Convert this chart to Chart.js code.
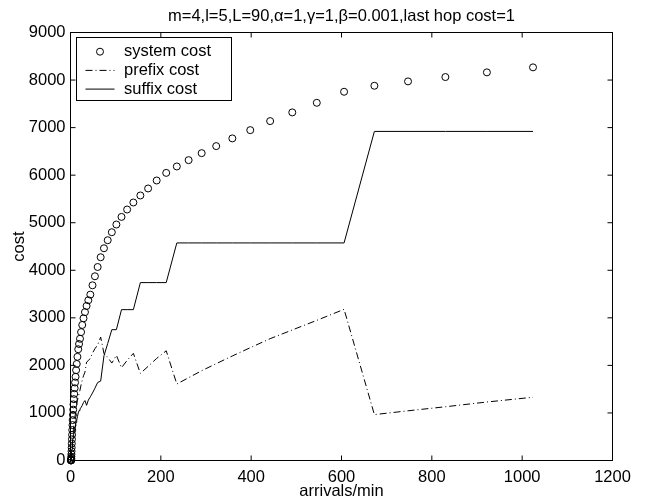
<!DOCTYPE html>
<html><head><meta charset="utf-8">
<script src="https://cdn.jsdelivr.net/npm/chart.js@4.4.1/dist/chart.umd.min.js"></script>
<style>html,body{margin:0;padding:0;background:#fff}#wrap{width:647px;height:503px;position:relative}</style>
</head><body><div id="wrap"><canvas id="c" width="647" height="503"></canvas></div>
<script>
const titleText = "m=4,l=5,L=90,\u03b1=1,\u03b3=1,\u03b2=0.001,last hop cost=1";
const xLabel = "arrivals/min";
const yLabel = "cost";
const seriesLabels = ["system cost", "prefix cost", "suffix cost"];
const xTicks = [0, 200, 400, 600, 800, 1000, 1200];
const yTicks = [0, 1000, 2000, 3000, 4000, 5000, 6000, 7000, 8000, 9000];

const arrivals = [1.0, 1.1, 1.2, 1.4, 1.5, 1.7, 1.9, 2.1, 2.3, 2.6, 2.9, 3.2, 3.5, 3.9, 4.4, 4.8, 5.4, 6.0, 6.6, 7.4,
  8.2, 9.1, 10.1, 11.2, 12.4, 13.8, 15.3, 17.1, 18.9, 21.0, 23.4, 26.0, 28.8, 32.0, 35.6, 39.5, 43.9, 48.7, 54.1, 60.1,
  66.8, 74.1, 82.4, 91.5, 101.6, 112.9, 125.4, 139.2, 154.7, 171.8, 190.8, 211.9, 235.4, 261.5, 290.4, 322.6, 358.3, 398.0, 442.0, 491.0,
  545.3, 605.7, 672.8, 747.3, 830.0, 921.9, 1024];

const systemCost = [0, 2, 5, 10, 20, 45, 80, 130, 195, 270, 355, 445, 540, 640, 745, 850, 960, 1070, 1180, 1290,
  1400, 1520, 1640, 1760, 1900, 2030, 2180, 2340, 2450, 2560, 2700, 2850, 2990, 3120, 3250, 3370, 3488, 3684, 3874, 4069,
  4274, 4463, 4632, 4800, 4962, 5122, 5278, 5425, 5573, 5720, 5888, 6048, 6183, 6316, 6463, 6611, 6773, 6947, 7137, 7320,
  7522, 7754, 7880, 7972, 8063, 8162, 8267];

const prefixCost = [0, 1, 3, 6, 12, 25, 45, 75, 110, 150, 200, 250, 300, 360, 420, 480, 540, 600, 660, 720,
  790, 860, 930, 1000, 1100, 1180, 1260, 1340, 1400, 1480, 1590, 1690, 1780, 1860, 2070, 2100, 2150, 2260, 2350, 2430,
  2596, 2250, 2170, 2049, 2211, 1950, 2106, 2253, 1832, 1979, 2147, 2307, 1608, 1741, 1888, 2036, 2198, 2372, 2562, 2745,
  2947, 3179, 965, 1045, 1130, 1230, 1330];

const suffixCost = [0, 1, 2, 4, 8, 20, 35, 55, 85, 120, 155, 195, 240, 280, 325, 370, 420, 470, 520, 570,
  610, 660, 710, 760, 800, 850, 920, 1000, 1050, 1090, 1110, 1160, 1220, 1260, 1160, 1270, 1340, 1420, 1520, 1640,
  1670, 2200, 2460, 2751, 2751, 3172, 3172, 3172, 3741, 3741, 3741, 3741, 4575, 4575, 4575, 4575, 4575, 4575, 4575, 4575,
  4575, 4575, 6920, 6920, 6920, 6920, 6920];

const FONT = "'Liberation Sans', Arial, Helvetica, sans-serif";
const FS = 16.5;

const toXY = (ys) => arrivals.map((x, i) => ({x: x, y: ys[i]}));

const framePlugin = {
  id: 'frame',
  beforeDatasetsDraw(chart) {
    const {ctx, chartArea: a, scales: {x, y}} = chart;
    ctx.save();
    ctx.strokeStyle = '#000';
    ctx.lineWidth = 1;
    ctx.strokeRect(a.left, a.top, a.right - a.left, a.bottom - a.top);
    ctx.beginPath();
    const t = 5;
    xTicks.forEach(v => {
      const px = x.getPixelForValue(v);
      ctx.moveTo(px, a.bottom); ctx.lineTo(px, a.bottom - t);
      ctx.moveTo(px, a.top); ctx.lineTo(px, a.top + t);
    });
    yTicks.forEach(v => {
      const py = y.getPixelForValue(v);
      ctx.moveTo(a.left, py); ctx.lineTo(a.left + t, py);
      ctx.moveTo(a.right, py); ctx.lineTo(a.right - t, py);
    });
    ctx.stroke();
    ctx.restore();
  }
};

const legendPlugin = {
  id: 'boxLegend',
  afterDraw(chart) {
    const {ctx, chartArea: a} = chart;
    const bx = a.left + 6, by = a.top + 5, bw = 155, bh = 63;
    ctx.save();
    ctx.fillStyle = '#fff';
    ctx.fillRect(bx, by, bw, bh);
    ctx.strokeStyle = '#000';
    ctx.lineWidth = 1;
    ctx.strokeRect(bx, by, bw, bh);
    ctx.font = FS + 'px ' + FONT;
    ctx.textBaseline = 'middle';
    ctx.textAlign = 'left';
    chart.data.datasets.forEach((ds, i) => {
      const ry = by + 14.2 + i * 18.7;
      const x0 = bx + 9, x1 = bx + 38;
      ctx.strokeStyle = '#000';
      ctx.lineWidth = 1;
      if (ds.showLine === false) {
        ctx.beginPath();
        ctx.arc((x0 + x1) / 2, ry, ds.pointRadius, 0, Math.PI * 2);
        ctx.stroke();
      } else {
        ctx.setLineDash(ds.borderDash || []);
        ctx.beginPath();
        ctx.moveTo(x0, ry); ctx.lineTo(x1, ry);
        ctx.stroke();
        ctx.setLineDash([]);
      }
      ctx.fillStyle = '#000';
      ctx.fillText(ds.label, bx + 47.5, ry);
    });
    ctx.restore();
  }
};

new Chart(document.getElementById('c'), {
  type: 'scatter',
  data: {
    datasets: [
      {label: seriesLabels[0], data: toXY(systemCost), showLine: false, pointStyle: 'circle', pointRadius: 3.5,
       pointHoverRadius: 3.5, pointBorderWidth: 1, pointBorderColor: '#000', pointBackgroundColor: 'rgba(0,0,0,0)', clip: false},
      {label: seriesLabels[1], data: toXY(prefixCost), showLine: true, pointRadius: 0, pointHoverRadius: 0,
       borderColor: '#000', borderWidth: 1, borderDash: [7, 3, 1, 3], tension: 0, fill: false},
      {label: seriesLabels[2], data: toXY(suffixCost), showLine: true, pointRadius: 0, pointHoverRadius: 0,
       borderColor: '#000', borderWidth: 1, tension: 0, fill: false}
    ]
  },
  options: {
    responsive: false,
    animation: false,
    devicePixelRatio: 1,
    layout: {padding: {left: 0, right: 34.5, top: 0, bottom: 0}},
    plugins: {
      legend: {display: false},
      tooltip: {enabled: false},
      title: {display: true, text: titleText, fullSize: false, color: '#000',
              font: {family: FONT, size: FS, weight: 'normal'}, padding: {top: 6.1, bottom: 6.6}}
    },
    scales: {
      x: {
        type: 'linear', min: 0, max: 1200,
        grid: {display: false, drawTicks: false},
        border: {display: false},
        ticks: {stepSize: 200, color: '#000', padding: 7, font: {family: FONT, size: FS}, maxRotation: 0,
                callback: v => String(v)},
        title: {display: true, text: xLabel, color: '#000', font: {family: FONT, size: FS}, padding: {top: 0, bottom: 1.7}},
        afterFit: s => { s.height = 42.5; }
      },
      y: {
        type: 'linear', min: 0, max: 9000,
        grid: {display: false, drawTicks: false},
        border: {display: false},
        ticks: {stepSize: 1000, color: '#000', padding: 5, font: {family: FONT, size: FS},
                callback: v => String(v)},
        title: {display: true, text: yLabel, color: '#000', font: {family: FONT, size: FS}, padding: {top: 9.1, bottom: 0}},
        afterFit: s => { s.width = 70.5; }
      }
    }
  },
  plugins: [framePlugin, legendPlugin]
});
</script>
</body></html>
